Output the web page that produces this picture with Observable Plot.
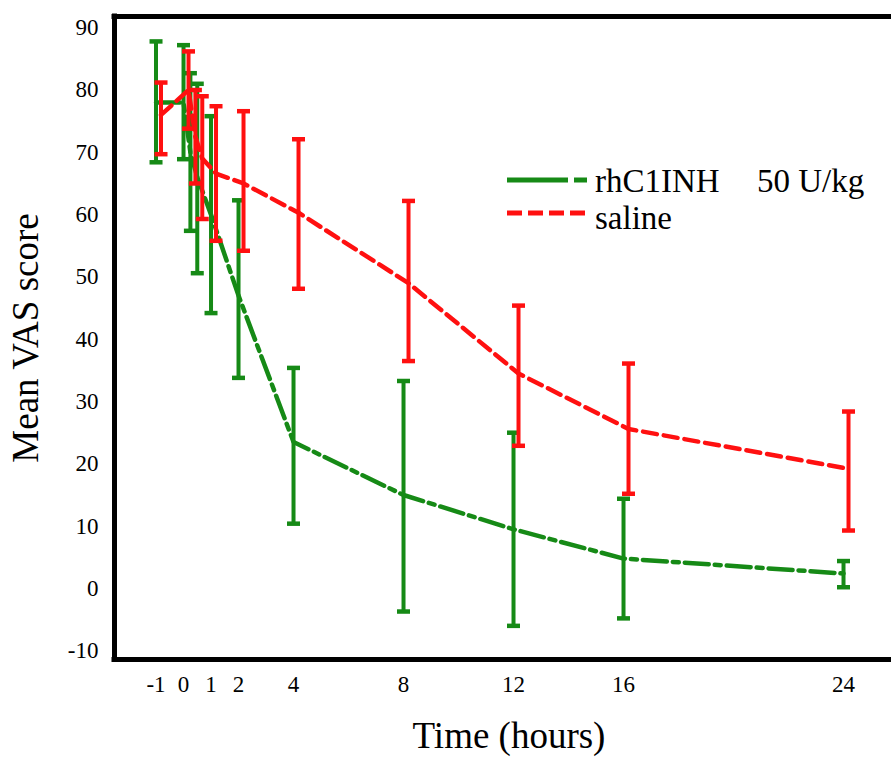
<!DOCTYPE html>
<html><head><meta charset="utf-8">
<script src="https://cdn.jsdelivr.net/npm/d3@7"></script>
<script src="https://cdn.jsdelivr.net/npm/@observablehq/plot@0.6"></script>
<style>body{margin:0;background:#fff}#chart{width:891px;height:758px}</style>
</head><body><div id="chart"></div>
<script>
// ---- data ----
const times = [-1, 0, 0.25, 0.5, 1, 2, 4, 8, 12, 16, 24];
const rhMean = [78, 78, 70, 66, 60, 47, 23.5, 15, 9.5, 4.8, 2.4];
const rhLo   = [68.4, 68.9, 57.4, 50.6, 44.2, 33.8, 10.4, -3.7, -6, -4.8, 0.2];
const rhHi   = [87.8, 87.2, 82.7, 81, 75.8, 62.3, 35.4, 33.3, 25, 14.4, 4.4];
const salMean = [76, 80, 72.5, 69, 66.6, 65, 60.3, 49, 34.5, 25.6, 19.2];
const salLo   = [69.7, 73.8, 65, 59.3, 55.8, 54.2, 48.1, 36.5, 22.9, 15.2, 9.3];
const salHi   = [81.2, 86.2, 80, 79, 77.4, 76.6, 72.1, 62.2, 45.4, 36.1, 28.4];
const xTicks = [-1, 0, 1, 2, 4, 8, 12, 16, 24];
const yTicks = [-10, 0, 10, 20, 30, 40, 50, 60, 70, 80, 90];
const seriesNames = ["rhC1INH", "saline"];
const doseLabel = "50 U/kg";

// ---- style ----
const FONT = "'Liberation Serif', 'Times New Roman', serif";
const GREEN = "#168a16";
const RED = "#ff1010";
const X_DOMAIN = [-2.51, 25.745];
const Y_DOMAIN = [-11.4, 91.8];

const rows = (m, lo, hi) => times.map((t, i) => ({t, mean: m[i], lo: lo[i], hi: hi[i]}));
const rh = rows(rhMean, rhLo, rhHi);
const sal = rows(salMean, salLo, salHi);

const cap = {draw(ctx, size) { const w = Math.sqrt(size / Math.PI); ctx.moveTo(-w, 0); ctx.lineTo(w, 0); }};

function seriesMarks(data, color, dash, dx) {
  return [
    Plot.lineY(data, {x: "t", y: "mean", stroke: color, strokeWidth: 4.5, strokeDasharray: dash, dx}),
    Plot.ruleX(data, {x: "t", y1: "lo", y2: "hi", stroke: color, strokeWidth: 4, dx}),
    Plot.dot(data, {x: "t", y: "lo", symbol: cap, r: 6.5, stroke: color, strokeWidth: 4.5, fill: "none", dx}),
    Plot.dot(data, {x: "t", y: "hi", symbol: cap, r: 6.5, stroke: color, strokeWidth: 4.5, fill: "none", dx})
  ];
}

const chart = Plot.plot({
  width: 891, height: 758,
  marginTop: 16, marginLeft: 114, marginRight: 0, marginBottom: 99,
  style: {fontFamily: FONT, background: "white", color: "black", overflow: "visible"},
  x: {domain: X_DOMAIN},
  y: {domain: Y_DOMAIN},
  marks: [
    Plot.axisX({ticks: xTicks, tickSize: 0, tickPadding: 16, fontSize: 23, fontFamily: FONT, label: null, tickFormat: d => String(d)}),
    Plot.axisY({ticks: yTicks, tickSize: 0, tickPadding: 16, fontSize: 23, fontFamily: FONT, label: null, tickFormat: d => String(d)}),
    Plot.text(["Time (hours)"], {frameAnchor: "bottom", dy: 88, fontSize: 37, fontFamily: FONT, textAnchor: "middle", dx: 6}),
    Plot.text(["Mean VAS score"], {frameAnchor: "left", dx: -88, rotate: -90, fontSize: 37, fontFamily: FONT, textAnchor: "middle"}),
    ...seriesMarks(rh, GREEN, "24,6,6,6", 0),
    ...seriesMarks(sal, RED, "14,7", 5),
    Plot.ruleX([X_DOMAIN[0]], {stroke: "black", strokeWidth: 5, strokeLinecap: "square"}),
    Plot.ruleY(Y_DOMAIN, {stroke: "black", strokeWidth: 5, strokeLinecap: "square"})
  ]
});
document.getElementById("chart").appendChild(chart);

// legend inside the svg
const svg = d3.select(chart);
const lg = svg.append("g").attr("font-family", FONT).attr("font-size", 33).attr("text-anchor", "start");
const legendItems = [
  {name: seriesNames[0], color: GREEN, dash: "61,6,13,100", y: 180, ty: 192},
  {name: seriesNames[1], color: RED, dash: "15,6", y: 213, ty: 229}
];
legendItems.forEach(it => {
  lg.append("line").attr("x1", 507).attr("x2", 587).attr("y1", it.y).attr("y2", it.y)
    .attr("stroke", it.color).attr("stroke-width", 5).attr("stroke-dasharray", it.dash);
  lg.append("text").attr("x", 595).attr("y", it.ty).attr("text-anchor", "start").text(it.name);
});
lg.append("text").attr("x", 757).attr("y", 192).attr("text-anchor", "start").text(doseLabel);
</script></body></html>
